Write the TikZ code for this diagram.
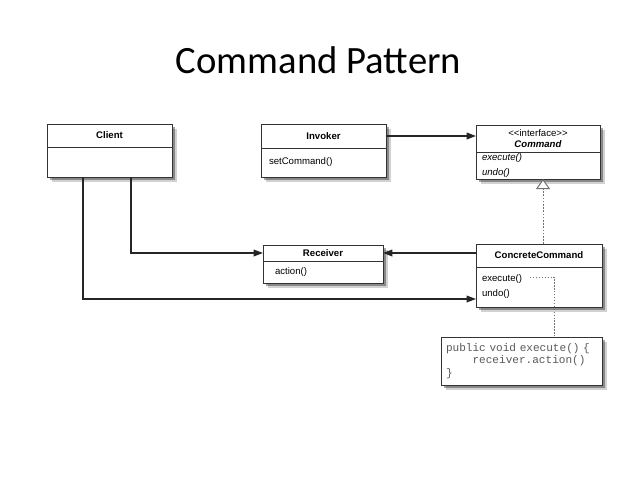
\documentclass[tikz,border=0pt]{standalone}
\usepackage{fontspec}
\setmainfont{Liberation Sans}
\setmonofont{Liberation Mono}
\newfontfamily\titlefont{Carlito}
\usetikzlibrary{positioning,calc,shadows,arrows.meta}

\tikzset{every picture/.style={line width=0.75pt}}
\tikzset{
  umlbox/.style={draw=black!80, fill=white, inner sep=0pt, outer sep=0pt,
    drop shadow={shadow xshift=3.5pt, shadow yshift=-3.5pt, fill=black, opacity=0.18},
    drop shadow={shadow xshift=2.2pt, shadow yshift=-2.2pt, fill=black, opacity=0.35}},
  umlhead/.style={umlbox, align=center, font=\fontsize{7.2}{8.3}\selectfont\bfseries},
  umlbody/.style={umlbox, align=left, font=\fontsize{7.2}{11.25}\selectfont},
  assoc/.style={draw=black!85, line width=1pt, -{Triangle[length=7pt,width=5pt]}},
  realize/.style={draw=black!55, dash pattern=on 1.2pt off 1.2pt,
    -{Triangle[open,fill=white,length=7.5pt,width=10.5pt]}},
  noteline/.style={draw=black!55, dash pattern=on 1pt off 1.2pt},
}

\begin{document}
\begin{tikzpicture}[x=0.75pt,y=0.75pt,yscale=-1,xscale=1]
%set diagram left start at 0, and has height of 479
\useasboundingbox (0,0) rectangle (638,479);
\fill[white] (0,0) rectangle (638,479);

% Text Node
\node[font=\titlefont\fontsize{29}{34}\selectfont, anchor=base] (title) at (318.5,73) {Command Pattern};

%Shape: Class Client
\node[umlhead, anchor=north west, minimum width=93.75pt, minimum height=17.25pt] (clienth) at (47,124) {Client};
\node[umlbody, below=0pt of clienth, minimum width=93.75pt, minimum height=22.5pt] (clientb) {};
%Shape: Class Invoker
\node[umlhead, anchor=north west, minimum width=93.75pt, minimum height=18pt] (invokerh) at (261,124) {Invoker};
\node[umlbody, below=0pt of invokerh, minimum width=93.75pt, minimum height=21.75pt, inner xsep=6pt, text width=81.75pt] (invokerb) {setCommand()};
%Shape: Interface Command
\node[umlhead, anchor=north west, minimum width=93pt, minimum height=20.25pt] (cmdh) at (476,125) {{\mdseries {<}{<}interface{>}{>}}\\\textit{Command}};
\node[umlbody, below=0pt of cmdh, minimum width=93pt, minimum height=20.25pt, inner xsep=4.5pt, text width=84pt] (cmdb) {\textit{execute()}\\\textit{undo()}};
%Shape: Class Receiver
\node[umlhead, anchor=north west, minimum width=90pt, minimum height=12pt] (recvh) at (263,245) {Receiver};
\node[umlbody, below=0pt of recvh, minimum width=90pt, minimum height=16.5pt, inner xsep=9pt, text width=72pt] (recvb) {action()};
%Shape: Class ConcreteCommand
\node[umlhead, anchor=north west, minimum width=94.5pt, minimum height=17.25pt] (conch) at (476,244) {ConcreteCommand};
\node[umlbody, below=0pt of conch, minimum width=94.5pt, minimum height=30pt, inner xsep=4.5pt, text width=85.5pt] (concb) {execute()\\undo()};
%Shape: Code note
\node[umlbox, anchor=north west, minimum width=120.75pt, minimum height=36pt, inner xsep=3.75pt, text width=113.25pt, align=left,
  font=\ttfamily\fontsize{8.3}{9.2}\selectfont, text=black!65] (code) at (441,337)
  {public void execute() \{\\\phantom{abcd}receiver.action()\\\}};

%Straight Lines
\draw[assoc] (invokerh.east) -- (invokerh.east -| cmdh.west);
\draw[assoc] ($(clientb.south west)+(84,0)$) |- (recvh.west);
\draw[assoc] ($(clientb.south west)+(36,0)$) |- ($(concb.south west)+(0,-8)$);
\draw[assoc] (conch.west |- recvh.east) -- (recvh.east);
\draw[realize] ([xshift=3pt]conch.north) -- ([xshift=3pt]conch.north |- cmdb.south);
\coordinate (execend) at (530,277);
\draw[noteline] (execend) -| ([xshift=24.4pt]code.north);

\end{tikzpicture}
\end{document}
